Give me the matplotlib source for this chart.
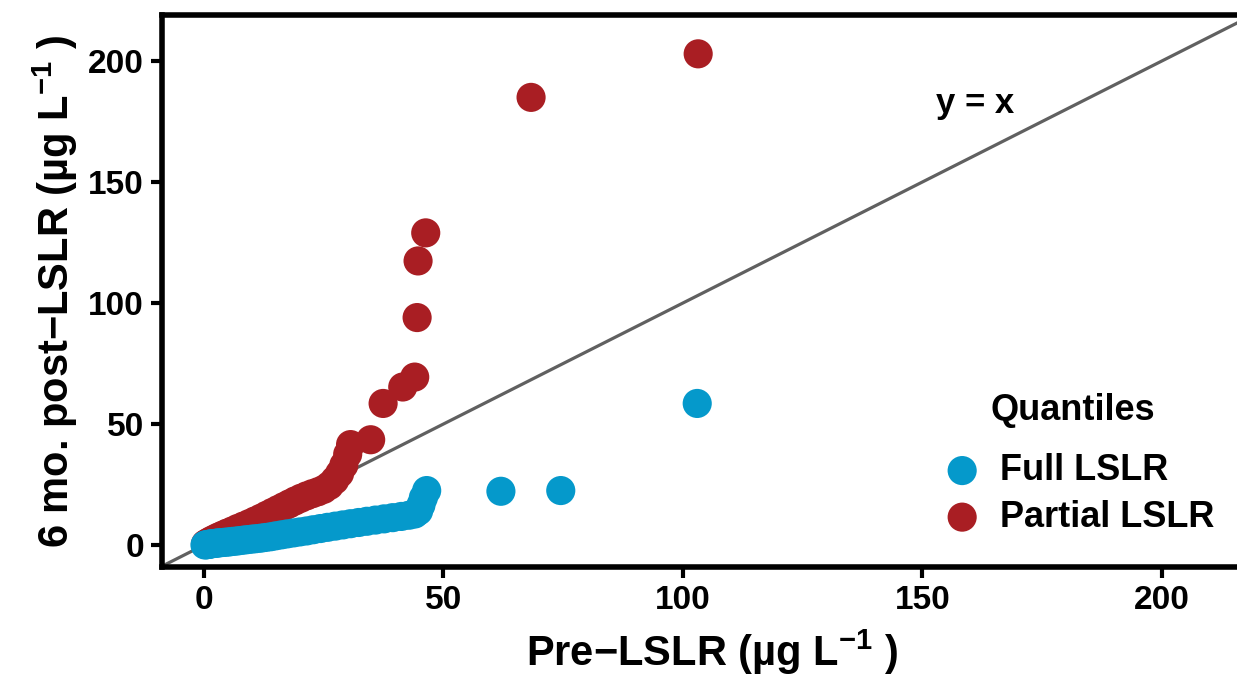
import numpy as np
import matplotlib.pyplot as plt
import matplotlib as mpl

mpl.rcParams['font.family'] = ['Liberation Sans', 'DejaVu Sans']
mpl.rcParams['font.weight'] = 'bold'
mpl.rcParams['mathtext.fontset'] = 'custom'
mpl.rcParams['mathtext.rm'] = 'Liberation Sans:bold'
mpl.rcParams['mathtext.bf'] = 'Liberation Sans:bold'
mpl.rcParams['mathtext.default'] = 'bf'

# Q-Q 数据: 换管前 (x) 与换管后 6 个月 (y) 的分位数
full_pre = [0.2, 0.5, 0.8, 1.0, 1.3, 1.6, 2.0, 2.4, 2.8, 3.2, 3.7, 4.2, 4.8, 5.4, 6.0,
            6.7, 7.4, 8.2, 9.0, 9.9, 10.8, 11.8, 12.8, 13.9, 15.0, 16.2, 17.4, 18.7,
            20.0, 21.4, 22.8, 24.3, 25.8, 27.4, 29.0, 30.6, 32.3, 34.0, 35.8, 37.6,
            39.4, 41.2, 42.8, 44.0, 44.8, 45.3, 45.8, 46.5, 62.0, 74.5, 103.0]
full_post = [0.0, 0.1, 0.2, 0.3, 0.4, 0.5, 0.6, 0.7, 0.8, 0.9, 1.0, 1.1, 1.2, 1.3, 1.5,
             1.6, 1.8, 2.0, 2.2, 2.4, 2.6, 2.8, 3.1, 3.4, 3.8, 4.2, 4.6, 5.0,
             5.4, 5.8, 6.3, 6.8, 7.3, 7.8, 8.3, 8.8, 9.3, 9.8, 10.3, 10.8,
             11.3, 11.8, 12.3, 12.8, 14.0, 16.5, 19.5, 22.5, 22.2, 22.5, 58.5]

partial_pre = [0.3, 0.8, 1.4, 2.1, 2.9, 3.8, 4.8, 5.9, 7.0, 8.2, 9.4, 10.6, 11.8, 13.0,
               14.2, 15.4, 16.6, 17.8, 19.0, 20.2, 21.4, 22.6, 23.8, 25.0, 26.2, 27.3,
               28.3, 29.2, 30.0, 30.6, 34.8, 37.4, 41.5, 44.0, 44.5, 44.7, 46.3, 68.3, 103.2]
partial_post = [0.4, 1.0, 1.7, 2.4, 3.2, 4.0, 4.9, 5.8, 6.8, 7.8, 8.8, 9.9, 11.0, 12.2,
                13.4, 14.6, 15.8, 17.0, 18.2, 19.3, 20.3, 21.2, 22.0, 23.0, 24.6, 26.8,
                29.5, 33.0, 37.5, 41.5, 43.5, 58.5, 65.3, 69.4, 94.0, 117.4, 129.0, 185.0, 203.0]

blue = '#0599cb'
red = '#a91e23'

fig = plt.figure(figsize=(12.37, 6.78), dpi=100)
ax = fig.add_axes([0.131, 0.1637, 0.889, 0.814])

# y = x 参考线
ref = np.array([-20, 260])
ax.plot(ref, ref, color='#606060', linewidth=2.3, zorder=1)

ax.scatter(partial_pre, partial_post, s=440, color=red, edgecolors='none', zorder=2, label='Partial LSLR')
ax.scatter(full_pre, full_post, s=440, color=blue, edgecolors='none', zorder=3, label='Full LSLR')

ax.text(161, 182.5, 'y = x', fontsize=25, fontweight='bold', ha='center', va='center')

ax.set_xlim(-8.77, 220.9)
ax.set_ylim(-9.1, 219)
ax.set_xticks([0, 50, 100, 150, 200])
ax.set_yticks([0, 50, 100, 150, 200])
ax.tick_params(axis='both', direction='out', length=8, width=3, labelsize=24, pad=5)
for lab in ax.get_xticklabels() + ax.get_yticklabels():
    lab.set_fontweight('bold')
for sp in ax.spines.values():
    sp.set_linewidth(4)
ax.spines['right'].set_visible(False)

ax.set_xlabel('Pre−LSLR (µg L$^{-1}$ )', fontsize=30, fontweight='bold', labelpad=8)
ax.set_ylabel('6 mo. post−LSLR (µg L$^{-1}$ )', fontsize=30, fontweight='bold', labelpad=6)

# 图例: 标题单独放置
handles, labels = ax.get_legend_handles_labels()
leg = ax.legend(handles[::-1], labels[::-1], loc='upper left',
                bbox_to_anchor=(908 / 1237, 1 - 435 / 678), bbox_transform=fig.transFigure,
                frameon=False, fontsize=26, handletextpad=0.05, labelspacing=0.32,
                markerscale=1.0, borderpad=0)
for t in leg.get_texts():
    t.set_fontweight('bold')
fig.text(1073 / 1237, 1 - 410 / 678, 'Quantiles', fontsize=26, fontweight='bold',
         ha='center', va='center')

fig.savefig('out.png', dpi=100)
